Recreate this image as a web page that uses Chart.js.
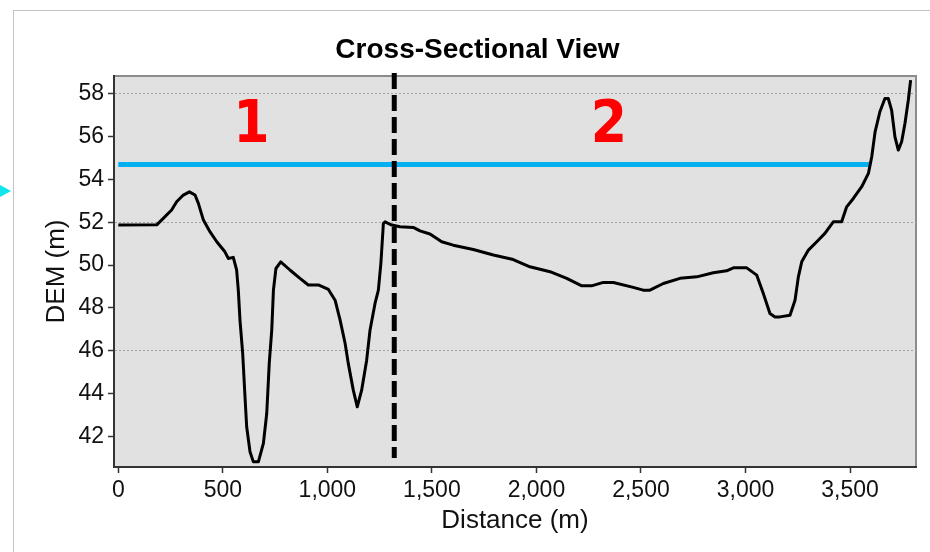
<!DOCTYPE html>
<html>
<head>
<meta charset="utf-8">
<script src="https://cdn.jsdelivr.net/npm/chart.js@4.4.1/dist/chart.umd.min.js"></script>
<style>
  body { margin: 0; background: #fff; }
  #contenedor { position: relative; width: 930px; height: 552px; }
  #marco { position: absolute; left: 13px; top: 10px; right: 0; bottom: 0;
           border-top: 1px solid #c4c4c4; border-left: 1px solid #c4c4c4; }
  #flecha { position: absolute; left: 0; top: 185px; width: 0; height: 0;
            border-top: 6px solid transparent; border-bottom: 6px solid transparent;
            border-left: 11px solid #10e4ec; }
  canvas { position: absolute; left: 0; top: 0; }
</style>
</head>
<body>
<div id="contenedor">
  <div id="marco"></div>
  <div id="flecha"></div>
  <canvas id="canvas" width="930" height="552"></canvas>
</div>
<script>
//Datos del perfil (distancia en m, cota DEM en m)
var distancia = [0, 184, 215, 255, 279, 311, 340, 367, 383, 407, 439, 471, 510, 526, 550, 566, 574, 582, 595, 606,
  614, 630, 646, 670, 694, 710, 722, 734, 742, 754, 777, 821, 869, 909, 957, 1005, 1037, 1061, 1085, 1100,
  1124, 1143, 1164, 1188, 1204, 1228, 1244, 1256, 1268, 1276, 1308, 1347, 1411, 1443, 1491, 1547, 1602, 1698, 1794, 1889,
  1969, 2065, 2145, 2217, 2264, 2320, 2368, 2463, 2511, 2543, 2607, 2687, 2767, 2846, 2910, 2942, 3006, 3054, 3085, 3117,
  3141, 3165, 3213, 3237, 3253, 3269, 3301, 3341, 3380, 3420, 3460, 3484, 3516, 3556, 3588, 3604, 3620, 3643, 3667, 3683,
  3699, 3715, 3731, 3747, 3763, 3779, 3790];
var cota = [51.87, 51.88, 52.18, 52.57, 52.96, 53.27, 53.42, 53.27, 52.88, 52.1, 51.55, 51.09, 50.62, 50.31, 50.36, 49.77, 48.83, 47.43, 45.87, 43.85,
  42.45, 41.28, 40.81, 40.81, 41.67, 43.07, 45.41, 46.96, 48.83, 49.84, 50.15, 49.77, 49.38, 49.07, 49.07, 48.86, 48.36, 47.43, 46.34, 45.41,
  44.16, 43.38, 44.16, 45.56, 46.96, 48.21, 48.83, 50.08, 51.95, 52.02, 51.87, 51.79, 51.76, 51.6, 51.45, 51.09, 50.93, 50.73, 50.47, 50.26,
  49.92, 49.69, 49.38, 49.03, 49.03, 49.19, 49.19, 48.96, 48.83, 48.83, 49.14, 49.38, 49.45, 49.64, 49.73, 49.87, 49.87, 49.53, 48.68, 47.74,
  47.58, 47.58, 47.66, 48.36, 49.45, 50.15, 50.7, 51.09, 51.48, 52.02, 52.02, 52.72, 53.11, 53.66, 54.28, 55.06, 56.22, 57.16, 57.78, 57.78,
  57.24, 55.99, 55.37, 55.76, 56.62, 57.71, 58.64];

//Nivel de agua (linea azul) y division entre tramos (linea discontinua)
var nivelDistancia = [0, 3600];
var nivelCota = [54.7, 54.7];
var divisionDistancia = [1320, 1320];
var divisionCota = [58.97, 40.99];

//Etiquetas de los tramos
var tramos = ['1', '2'];
var tramosDistancia = [637, 2347];
var tramosCota = [55.76, 55.76];

//Ticks de los ejes
var ticksX = [0, 500, 1000, 1500, 2000, 2500, 3000, 3500];
var ticksY = [42, 44, 46, 48, 50, 52, 54, 56, 58];
var lineasGuia = [46, 52, 58];

function puntos(xs, ys) {
  var res = [];
  for (let i = 0; i < xs.length; i++) {
    res.push({x: xs[i], y: ys[i]});
  }
  return res;
}

//Fondo gris del area de la grafica y borde superior/derecho
var fondo = {
  id: 'fondo',
  beforeDraw: function(chart) {
    var a = chart.chartArea;
    var ctx = chart.ctx;
    ctx.save();
    ctx.fillStyle = '#e1e1e1';
    ctx.fillRect(a.left, a.top, a.right - a.left, a.bottom - a.top);
    ctx.strokeStyle = '#8c8c8c';
    ctx.lineWidth = 2;
    ctx.beginPath();
    ctx.moveTo(a.left, a.top);
    ctx.lineTo(a.right, a.top);
    ctx.lineTo(a.right, a.bottom);
    ctx.stroke();
    ctx.restore();
  }
};

//Numeros rojos de cada tramo
var etiquetas = {
  id: 'etiquetas',
  afterDatasetsDraw: function(chart) {
    var ctx = chart.ctx;
    ctx.save();
    ctx.fillStyle = '#ff0000';
    ctx.font = 'bold 58px "DejaVu Sans Condensed", "DejaVu Sans"';
    ctx.textAlign = 'center';
    ctx.textBaseline = 'alphabetic';
    for (let i = 0; i < tramos.length; i++) {
      ctx.fillText(tramos[i], chart.scales.x.getPixelForValue(tramosDistancia[i]),
        chart.scales.y.getPixelForValue(tramosCota[i]));
    }
    ctx.restore();
  }
};

var fuente = '"Liberation Sans", Arial, sans-serif';

var ctx = document.getElementById('canvas').getContext('2d');
window.miGrafica = new Chart(ctx, {
  type: 'line',
  data: {
    datasets: [
      {
        label: 'division',
        data: puntos(divisionDistancia, divisionCota),
        borderColor: '#000',
        borderWidth: 5,
        borderDash: [16, 6],
        borderCapStyle: 'butt',
        pointRadius: 0,
        clip: false
      },
      {
        label: 'DEM',
        data: puntos(distancia, cota),
        borderColor: '#000',
        borderWidth: 3,
        borderJoinStyle: 'round',
        pointRadius: 0,
        tension: 0
      },
      {
        label: 'nivel',
        data: puntos(nivelDistancia, nivelCota),
        borderColor: '#00b0f0',
        borderWidth: 5,
        borderCapStyle: 'butt',
        pointRadius: 0
      }
    ]
  },
  options: {
    responsive: false,
    animation: false,
    layout: { padding: { left: 39, right: 14, top: 0, bottom: 0 } },
    plugins: {
      legend: { display: false },
      tooltip: { enabled: false },
      title: {
        display: true,
        text: 'Cross-Sectional View',
        color: '#000',
        font: { family: fuente, size: 28, weight: 'bold' },
        padding: { top: 33, bottom: 9.4 }
      }
    },
    scales: {
      x: {
        type: 'linear',
        min: -20.6,
        max: 3815.7,
        afterFit: function(scale) { scale.height = 85; },
        afterBuildTicks: function(scale) {
          scale.ticks = ticksX.map(function(v) { return {value: v}; });
        },
        ticks: {
          color: '#111',
          padding: 4,
          maxRotation: 0,
          font: { family: fuente, size: 23 },
          callback: function(v) { return v.toLocaleString('en-US'); }
        },
        grid: { drawOnChartArea: false, drawTicks: true, tickLength: 6, tickColor: '#333', tickWidth: 1.5 },
        border: { color: '#333', width: 2 },
        title: {
          display: true,
          text: 'Distance (m)',
          color: '#111',
          font: { family: fuente, size: 26 },
          padding: { top: 0, bottom: 15.4 }
        }
      },
      y: {
        type: 'linear',
        min: 40.57,
        max: 58.83,
        afterFit: function(scale) { scale.width = 75; },
        afterBuildTicks: function(scale) {
          scale.ticks = ticksY.map(function(v) { return {value: v}; });
        },
        ticks: {
          color: '#111',
          padding: 4,
          font: { family: fuente, size: 23 }
        },
        grid: {
          color: function(c) {
            return (c.tick && lineasGuia.indexOf(c.tick.value) >= 0) ? '#a4a4a4' : 'rgba(0,0,0,0)';
          },
          lineWidth: 1,
          tickLength: 6,
          tickColor: '#333',
          tickWidth: 1.5
        },
        border: { color: '#333', width: 2, dash: [2, 2] },
        title: {
          display: true,
          text: 'DEM (m)',
          color: '#111',
          font: { family: fuente, size: 26 },
          padding: { top: 2.4, bottom: 0 }
        }
      }
    }
  },
  plugins: [fondo, etiquetas]
});
</script>
</body>
</html>
